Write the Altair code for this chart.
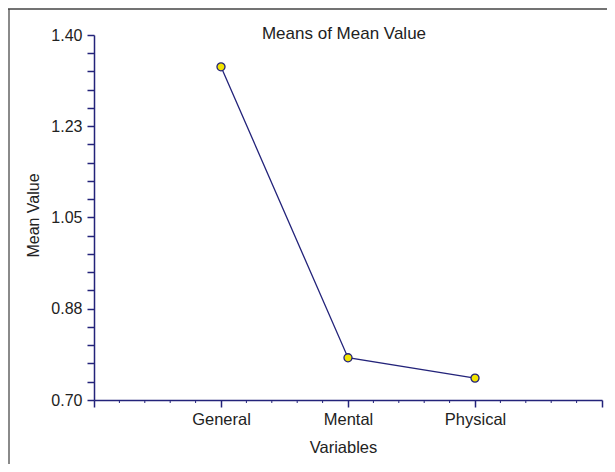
import altair as alt
import pandas as pd

chart_title = "Means of Mean Value"
categories = ["General", "Mental", "Physical"]
positions = [1, 2, 3]
means = [1.339, 0.781, 0.742]

y_tick_values = [round(0.70 + i * 0.035, 4) for i in range(21)]
y_major_values = [0.70, 0.875, 1.05, 1.225, 1.40]
y_major_labels = ["0.70", "0.88", "1.05", "1.23", "1.40"]
x_major_values = [0, 1, 2, 3, 4]
x_minor_values = [round(i * 0.2, 2) for i in range(21) if i % 5 != 0]

NAVY = "#23237a"
FONT = "Liberation Sans"

df = pd.DataFrame({"pos": positions, "cat": categories, "mean": means})
minor_df = pd.DataFrame({"pos": x_minor_values})
title_df = pd.DataFrame({"t": [chart_title]})

ylabel_expr = " : ".join(
    f"abs(datum.value - {v}) < 0.001 ? '{l}'" for v, l in zip(y_major_values, y_major_labels)
) + " : ''"
xlabel_expr = " : ".join(
    f"datum.value == {p} ? '{c}'" for p, c in zip(positions, categories)
) + " : ''"

xscale = alt.Scale(domain=[0, 4], nice=False, zero=False)
yscale = alt.Scale(domain=[0.70, 1.40], nice=False, zero=False)

x_enc = alt.X(
    "pos:Q", scale=xscale,
    axis=alt.Axis(
        values=x_major_values, tickCount=30, labelExpr=xlabel_expr, title="Variables",
        grid=False, domainColor=NAVY, tickColor=NAVY, tickSize=7, domainWidth=1.5,
        tickWidth=1.5, labelFont=FONT, labelFontSize=16.5, labelColor="#222222",
        labelPadding=4, titleFont=FONT, titleFontSize=16.5, titleFontWeight="normal",
        titleColor="#222222", titleY=39, titleX=249, labelFlush=False, labelOverlap=False,
    ),
)
y_enc = alt.Y(
    "mean:Q", scale=yscale,
    axis=alt.Axis(
        values=y_tick_values, tickCount=30, labelExpr=ylabel_expr, title="Mean Value",
        grid=False, domainColor=NAVY, tickColor=NAVY, tickSize=7, domainWidth=1.5,
        tickWidth=1.5, labelFont=FONT, labelFontSize=16, labelColor="#222222",
        labelPadding=5, titleFont=FONT, titleFontSize=16, titleFontWeight="normal",
        titleColor="#222222", titleX=-61, titleY=180, titleBaseline="middle",
        labelFlush=False, labelOverlap=False,
    ),
)

line = alt.Chart(df).mark_line(color=NAVY, strokeWidth=1.3).encode(x=x_enc, y=y_enc)
pts = alt.Chart(df).mark_point(
    filled=True, fill="#f2e400", stroke=NAVY, strokeWidth=1.3, size=65, opacity=1
).encode(x="pos:Q", y="mean:Q")

minor_ticks = alt.Chart(minor_df).mark_rule(color=NAVY, strokeWidth=1).encode(
    x=alt.X("pos:Q", scale=xscale),
    y=alt.value(365), y2=alt.value(368),
)

title_text = alt.Chart(title_df).mark_text(
    font=FONT, fontSize=17, color="#222222", align="center", baseline="middle"
).encode(text="t:N", x=alt.value(250), y=alt.value(-1))

frame_left = alt.Chart(title_df).mark_rule(color="#8a8a8a", strokeWidth=2).encode(
    x=alt.value(-85), y=alt.value(-26), y2=alt.value(460)
)
frame_top = alt.Chart(title_df).mark_rule(color="#444444", strokeWidth=1.5).encode(
    x=alt.value(-86), x2=alt.value(560), y=alt.value(-26)
)

chart = alt.layer(frame_left, frame_top, minor_ticks, line, pts, title_text).properties(
    width=508, height=365,
    autosize=alt.AutoSizeParams(type="none"),
    padding={"left": 86, "top": 27, "right": 5, "bottom": 64},
).configure_view(stroke=None)

chart.save("out.html", embed_options={"renderer": "svg", "actions": False})
